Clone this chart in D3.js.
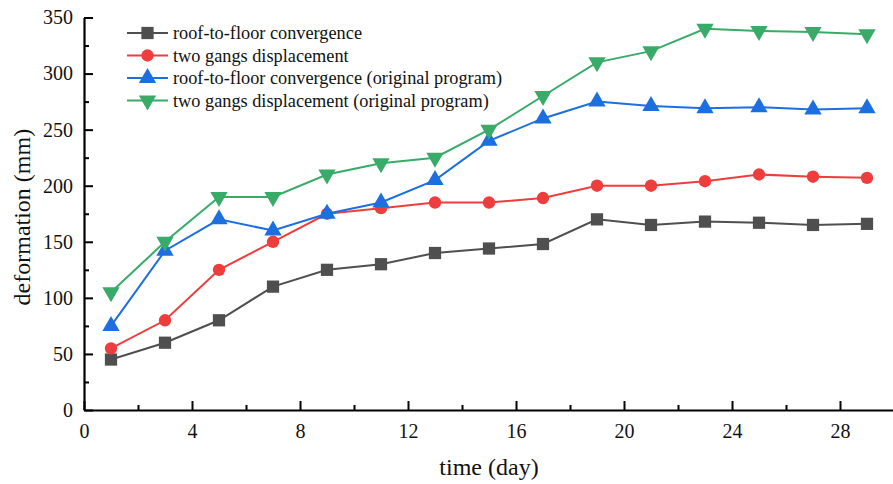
<!DOCTYPE html>
<html lang="en">
<head>
    <meta charset="UTF-8">
    <title>Deformation over time</title>
    <script src="https://d3js.org/d3.v7.min.js"></script>
    <style>
        body { margin: 0; background: #fff; }
        svg text { font-family: "Liberation Serif", "Times New Roman", serif; fill: #111; }
        .axis path, .axis line { stroke: #000; }
    </style>
</head>
<body>
    <svg width="893" height="484"></svg>
    <script>
// data
const days = [1, 3, 5, 7, 9, 11, 13, 15, 17, 19, 21, 23, 25, 27, 29];
const roofFloor = [45, 60, 80, 110, 125, 130, 140, 144, 148, 170, 165, 168, 167, 165, 166];
const twoGangs = [55, 80, 125, 150, 175, 180, 185, 185, 189, 200, 200, 204, 210, 208, 207];
const roofFloorOrig = [75, 142, 170, 160, 175, 185, 205, 240, 260, 275, 271, 269, 270, 268, 269];
const twoGangsOrig = [105, 150, 190, 190, 210, 220, 225, 250, 280, 310, 320, 340, 338, 337, 335];
const seriesNames = [
    'roof-to-floor convergence',
    'two gangs displacement',
    'roof-to-floor convergence (original program)',
    'two gangs displacement (original program)'
];
const xTicks = [0, 4, 8, 12, 16, 20, 24, 28];
const yTicks = [0, 50, 100, 150, 200, 250, 300, 350];

const colors = ['#4f4f4f', '#ef3d3d', '#1b6fe0', '#38ab68'];
const symbols = [d3.symbolSquare, d3.symbolCircle, d3.symbolTriangle, d3.symbolTriangle];
const symSize = [150, 120, 130, 130];
const rotate = [0, 0, 0, 180];

const series = [roofFloor, twoGangs, roofFloorOrig, twoGangsOrig].map((vals, i) => ({
    name: seriesNames[i],
    points: days.map((d, j) => ({ x: d, y: vals[j] }))
}));

const margin = {top: 17.5, right: 0, bottom: 74, left: 84};
const svg = d3.select('svg');
const width = 894 - margin.left;
const height = 484 - margin.top - margin.bottom;

const g = svg.append('g').attr('transform', `translate(${margin.left},${margin.top})`);

const x = d3.scaleLinear().domain([0, 30]).range([0, width]);
const y = d3.scaleLinear().domain([0, 350]).range([height, 0]);

// minor ticks first, then major with labels
g.append('g')
    .attr('class', 'axis')
    .attr('transform', `translate(0,${height})`)
    .call(d3.axisBottom(x).tickValues(d3.range(2, 30, 4)).tickSize(-5).tickFormat(''))
    .call(a => a.select('.domain').remove())
    .selectAll('line').attr('stroke-width', 2);

const xAxis = g.append('g')
    .attr('class', 'axis')
    .attr('transform', `translate(0,${height})`)
    .call(d3.axisBottom(x).tickValues(xTicks).tickSizeInner(-9).tickSizeOuter(0).tickPadding(14));
xAxis.select('.domain').attr('stroke-width', 2.2);
xAxis.selectAll('line').attr('stroke-width', 2);
xAxis.selectAll('text').attr('font-size', 20);

g.append('g')
    .attr('class', 'axis')
    .call(d3.axisLeft(y).tickValues(d3.range(25, 350, 50)).tickSize(-5).tickFormat(''))
    .call(a => a.select('.domain').remove())
    .selectAll('line').attr('stroke-width', 2);

const yAxis = g.append('g')
    .attr('class', 'axis')
    .call(d3.axisLeft(y).tickValues(yTicks).tickSizeInner(-9).tickSizeOuter(0).tickPadding(11));
yAxis.select('.domain').attr('stroke-width', 2.2);
yAxis.selectAll('line').attr('stroke-width', 2);
yAxis.selectAll('text').attr('font-size', 20);

// axis titles
svg.append('text')
    .attr('x', margin.left + x(15))
    .attr('y', 475)
    .attr('text-anchor', 'middle')
    .attr('font-size', 24)
    .text('time (day)');

svg.append('text')
    .attr('transform', `translate(30,${margin.top + y(172)}) rotate(-90)`)
    .attr('text-anchor', 'middle')
    .attr('font-size', 24)
    .text('deformation (mm)');

// lines + markers
const line = d3.line().x(d => x(d.x)).y(d => y(d.y));

series.forEach((s, i) => {
    g.append('path')
        .datum(s.points)
        .attr('fill', 'none')
        .attr('stroke', colors[i])
        .attr('stroke-width', 2)
        .attr('d', line);

    g.selectAll(`.m${i}`)
        .data(s.points)
        .enter()
        .append('path')
        .attr('class', `m${i}`)
        .attr('d', d3.symbol().type(symbols[i]).size(symSize[i]))
        .attr('fill', colors[i])
        .attr('transform', d => `translate(${x(d.x)},${y(d.y)}) rotate(${rotate[i]})`);
});

// legend
const legend = svg.append('g').attr('transform', 'translate(127,33)');
series.forEach((s, i) => {
    const row = legend.append('g').attr('transform', `translate(0,${i * 22.5})`);
    row.append('line')
        .attr('x1', 0).attr('x2', 41)
        .attr('stroke', colors[i]).attr('stroke-width', 2);
    row.append('path')
        .attr('d', d3.symbol().type(symbols[i]).size(symSize[i]))
        .attr('fill', colors[i])
        .attr('transform', `translate(20.5,0) rotate(${rotate[i]})`);
    row.append('text')
        .attr('x', 46)
        .attr('dy', '0.35em')
        .attr('font-size', 18.3)
        .text(s.name);
});
    </script>
</body>
</html>
